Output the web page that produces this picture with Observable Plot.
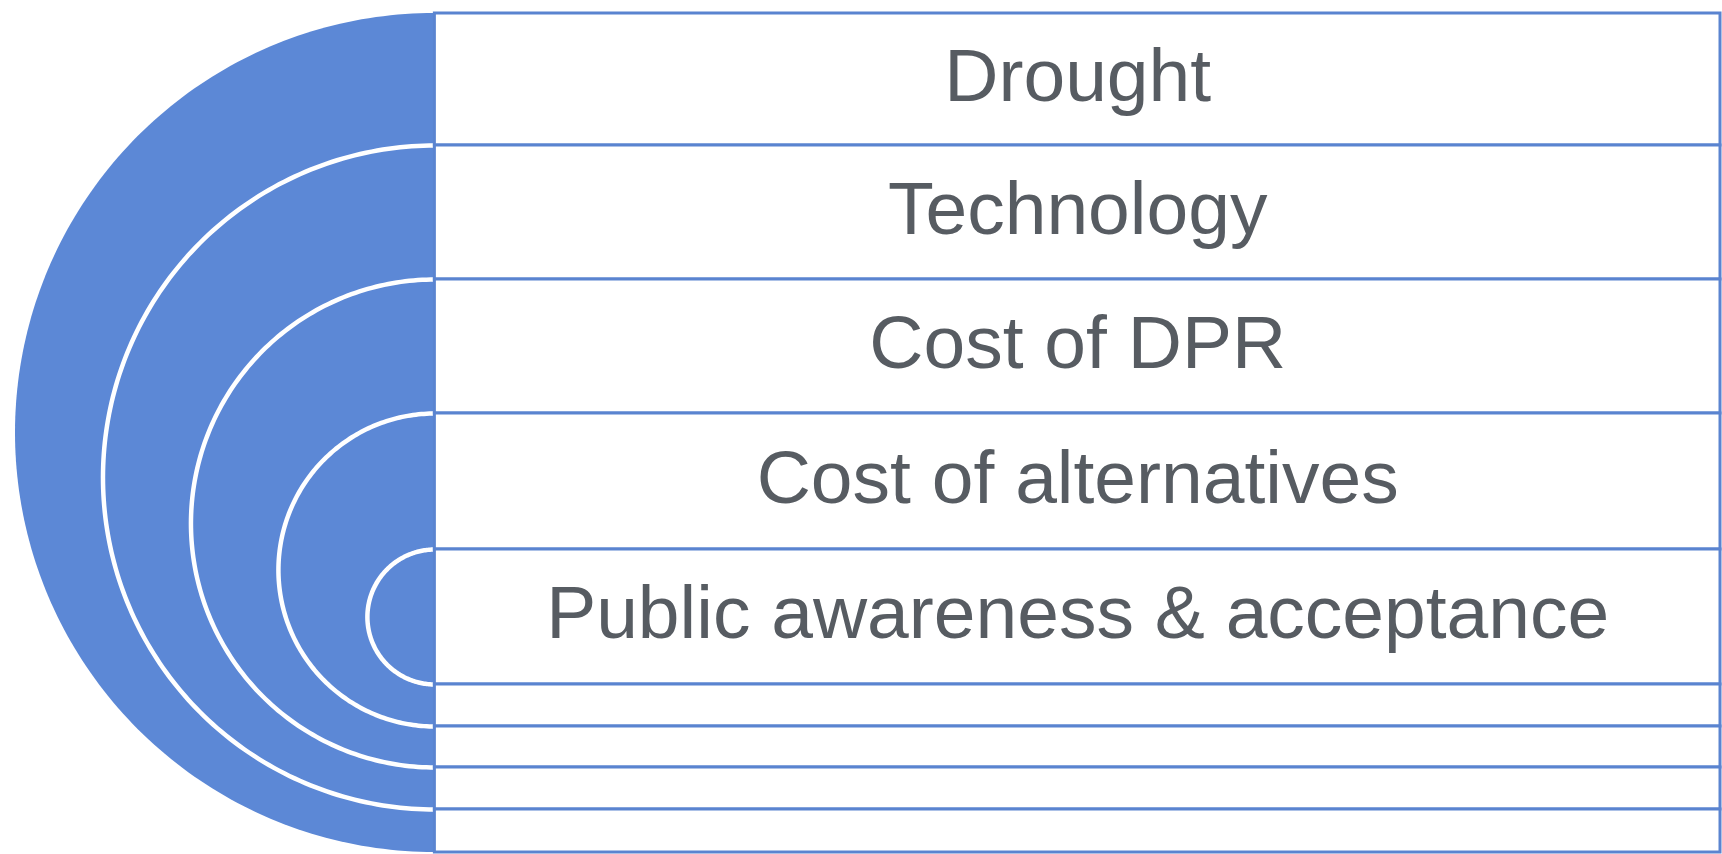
<!DOCTYPE html>
<html>
<head>
<meta charset="utf-8">
<script src="https://cdn.jsdelivr.net/npm/d3@7"></script>
<script src="https://cdn.jsdelivr.net/npm/@observablehq/plot@0.6"></script>
<style>
  html, body { margin: 0; padding: 0; background: #ffffff; }
  svg { display: block; }
</style>
</head>
<body>
<div id="chart"></div>
<script>
// Row labels (top to bottom); the last four rows are empty
const labels = ["Drought", "Technology", "Cost of DPR", "Cost of alternatives", "Public awareness & acceptance"];
// Row heights in diagram units (5 labelled rows, then 4 thin empty rows)
const rowHeights = [132, 134, 134, 136, 135, 42, 41, 42, 43];
// Width of the row panel in diagram units
const panelWidth = [1286];

const blue = "#5c88d6";
const lineBlue = "#5a84d0";
const textColor = "#575c62";

// cumulative row boundaries
const bounds = [0];
rowHeights.forEach(h => bounds.push(bounds[bounds.length - 1] + h));
const total = bounds[bounds.length - 1];
const W = panelWidth[0];

const rows = rowHeights.map((h, i) => ({ i, y1: bounds[i], y2: bounds[i + 1] }));
const textRows = labels.map((label, i) => ({ label, y: (bounds[i] + bounds[i + 1]) / 2 }));

// half-disc and nested arcs: arc k spans boundary k (top) to boundary n-k (bottom)
const n = bounds.length - 1;
function halfCircle(k) {
  const top = bounds[k], bot = bounds[n - k];
  const c = (top + bot) / 2, r = (bot - top) / 2;
  return d3.range(0, 181).map(t => {
    const a = t * Math.PI / 180;
    return { k, x: -r * Math.sin(a), y: c - r * Math.cos(a) };
  });
}
const outer = halfCircle(0);
const arcs = [1, 2, 3, 4].flatMap(k => halfCircle(k));

const R = total / 2;

const chart = Plot.plot({
  width: 1722,
  height: 854,
  margin: 0,
  x: { domain: [-R, W], range: [15, 1720], axis: null },
  y: { domain: [0, total], range: [13, 852], axis: null },
  style: { background: "#ffffff" },
  marks: [
    Plot.areaX(outer, { y: "y", x1: 0, x2: "x", fill: blue, curve: "linear" }),
    Plot.line(arcs, { x: "x", y: "y", z: "k", stroke: "#ffffff", strokeWidth: 4.5, curve: "linear" }),
    Plot.rect(rows, { x1: 0, x2: W, y1: "y1", y2: "y2", fill: "#ffffff", stroke: lineBlue, strokeWidth: 3 }),
    Plot.text(textRows, {
      x: () => W / 2, y: "y", text: "label",
      fontSize: 75, fill: textColor, fontFamily: "Liberation Sans, Arial, sans-serif",
      textAnchor: "middle", lineAnchor: "middle", dy: -3
    })
  ]
});
document.getElementById("chart").appendChild(chart);
</script>
</body>
</html>
